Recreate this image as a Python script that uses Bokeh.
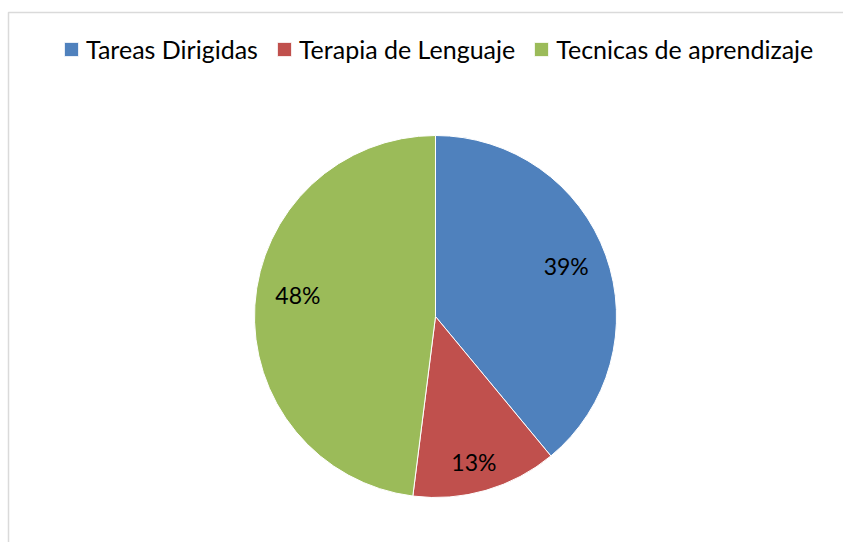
import math
from bokeh.plotting import figure
from bokeh.models import Range1d, Legend, LegendItem, BoxAnnotation, ColumnDataSource
from bokeh.core.properties import value
from bokeh.embed import file_html
from bokeh.resources import INLINE

categories = ["Tareas Dirigidas", "Terapia de Lenguaje", "Tecnicas de aprendizaje"]
percents = [39, 13, 48]
labels = ["39%", "13%", "48%"]
colors = ["#4F81BD", "#C0504D", "#9BBB59"]

W, H = 843, 542
FONT = "Lato"

p = figure(width=W, height=H, x_range=Range1d(0, W), y_range=Range1d(0, H),
           output_backend="svg", toolbar_location=None, min_border=0,
           x_axis_type=None, y_axis_type=None, outline_line_color=None)
p.grid.visible = False
p.background_fill_color = "white"
p.border_fill_color = "white"

# layout (pixels)
cx, cy, R = 435, 226, 181
label_r = [0.775, 0.83, 0.77]
label_da = [1.5, -1.4, -5.4]  # degrees nudge (best-fit placement)

total = sum(percents)
starts, ends, lx, ly = [], [], [], []
cum = 0.0
for i, v in enumerate(percents):
    a0 = math.pi / 2 - 2 * math.pi * cum / total
    cum += v
    a1 = math.pi / 2 - 2 * math.pi * cum / total
    starts.append(a0)
    ends.append(a1)
    mid = (a0 + a1) / 2 + math.radians(label_da[i])
    lx.append(cx + label_r[i] * R * math.cos(mid))
    ly.append(cy + label_r[i] * R * math.sin(mid))

src = ColumnDataSource(dict(cat=categories, start=starts, end=ends, color=colors,
                            lx=lx, ly=ly, lab=labels))
r = p.wedge(x=cx, y=cy, radius=R, start_angle="start", end_angle="end",
            direction="clock", fill_color="color", line_color="white",
            line_width=1, source=src)

p.text(x="lx", y="ly", text="lab", source=src, text_align="center",
       text_baseline="middle", text_font=value(FONT), text_font_size="23px",
       text_color="black")

items = [LegendItem(label=c, renderers=[r], index=i) for i, c in enumerate(categories)]
legend = Legend(items=items, orientation="horizontal", location=(62, 478),
                glyph_width=18, glyph_height=18, label_height=24, label_standoff=6,
                spacing=17, padding=0, margin=0, border_line_color=None,
                background_fill_alpha=0, label_text_font=FONT,
                label_text_font_size="25px", label_text_color="black")
p.add_layout(legend, "center")

p.add_layout(BoxAnnotation(left=8, right=W + 50, bottom=-50, top=H - 12,
                           fill_alpha=0, line_color="#868686", line_width=1.5))

open("out.html", "w").write(file_html(p, INLINE))
